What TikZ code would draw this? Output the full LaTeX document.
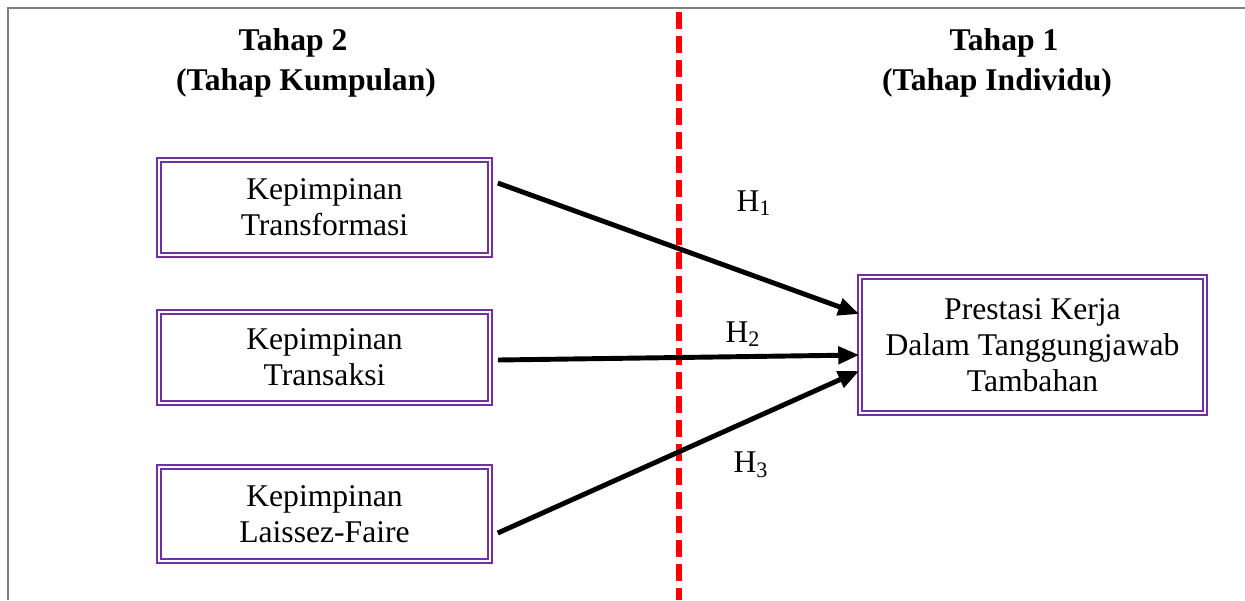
\documentclass[tikz,border=0pt]{standalone}
\usepackage{fontspec}
\setmainfont{Liberation Serif}
\usetikzlibrary{arrows.meta,calc}
\definecolor{ungu}{RGB}{112,48,160}
\definecolor{kelabu}{RGB}{128,128,128}
\begin{document}
\begin{tikzpicture}[x=0.02cm,y=-0.02cm,
    kotak/.style={draw=ungu, double=white, double distance=1.2pt, line width=0.95pt,
                  align=center, inner sep=0pt, font=\fontsize{18}{20.5}\selectfont},
    panah/.style={line width=2.8pt, -{Triangle[length=0.42cm,width=0.34cm]}},
    tajuk/.style={font=\fontsize{18}{20.5}\selectfont\bfseries},
    hip/.style={font=\fontsize{18}{20.5}\selectfont}]
     \useasboundingbox (0,0) rectangle (1245,600);
     \draw[kelabu, line width=1.1pt] (8,600)--(8,8)--(1245,8);
     \draw[red, line width=3.4pt, dash pattern=on 0.34cm off 0.14cm] (679,12)--(679,600);
     % tajuk
     \node[tajuk] (t2) at (293,43) {Tahap 2};
     \node[tajuk] (t2b) at (306,83) {(Tahap Kumpulan)};
     \node[tajuk] (t1) at (1004,43) {Tahap 1};
     \node[tajuk] (t1b) at (997,83) {(Tahap Individu)};
     % kotak
     \node[kotak, minimum width=6.62cm, minimum height=1.9cm] (tf) at (324.5,207.5) {Kepimpinan\\Transformasi};
     \node[kotak, minimum width=6.62cm, minimum height=1.82cm] (ts) at (324.5,357.5) {Kepimpinan\\Transaksi};
     \node[kotak, minimum width=6.62cm, minimum height=1.88cm] (lf) at (324.5,514) {Kepimpinan\\Laissez-Faire};
     \node[kotak, minimum width=6.9cm, minimum height=2.72cm] (pk) at (1032.5,345) {Prestasi Kerja\\Dalam Tanggungjawab\\Tambahan};
     % panah
     \draw[panah] ($(tf.east)+(7,-24.5)$) -- ($(pk.west)+(0,-31)$);
     \draw[panah] ($(ts.east)+(7,2.5)$) -- ($(pk.west)+(0,10)$);
     \draw[panah] ($(lf.east)+(7,19)$) -- ($(pk.west)+(0,26)$);
     \node[hip] (h1) at (754,203) {H\textsubscript{1}};
     \node[hip] (h2) at (743,334) {H\textsubscript{2}};
     \node[hip] (h3) at (751,465) {H\textsubscript{3}};
\end{tikzpicture}
\end{document}
